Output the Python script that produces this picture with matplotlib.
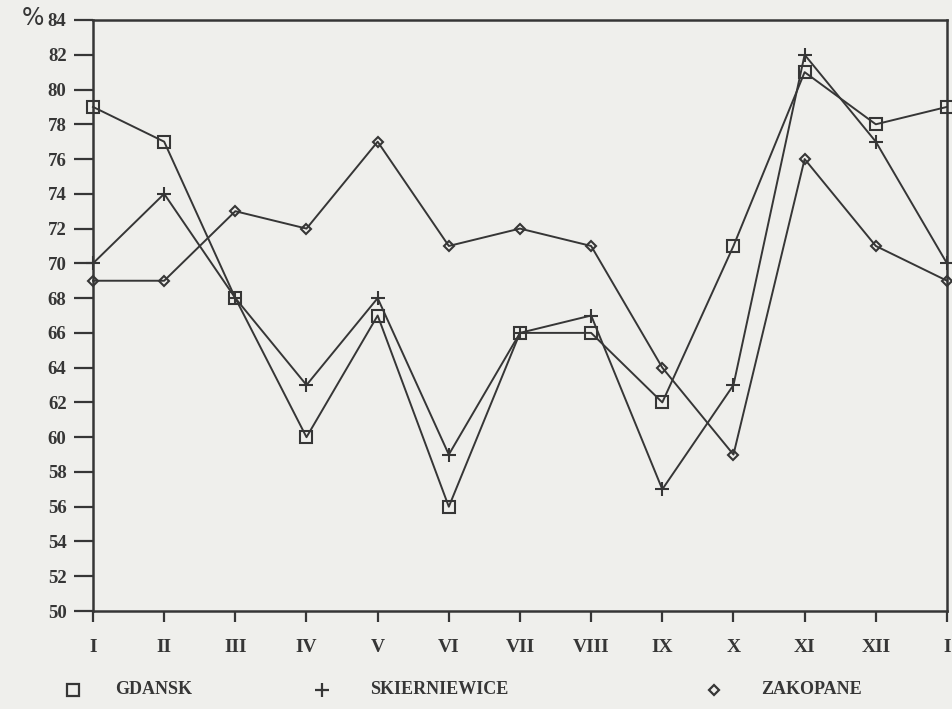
import matplotlib
matplotlib.use("Agg")
from matplotlib import pyplot as plt
from matplotlib.lines import Line2D

# monthly values, %
months = ["I", "II", "III", "IV", "V", "VI", "VII", "VIII", "IX", "X", "XI", "XII", "I"]
gdansk = [79, 77, 68, 60, 67, 56, 66, 66, 62, 71, 81, 78, 79]
skierniewice = [70, 74, 68, 63, 68, 59, 66, 67, 57, 63, 82, 77, 70]
zakopane = [69, 69, 73, 72, 77, 71, 72, 71, 64, 59, 76, 71, 69]
y_ticks = list(range(50, 85, 2))

ink = "#363636"
paper = "#efefec"
font = "Liberation Serif"

fig = plt.figure(figsize=(9.52, 7.09), dpi=100, facecolor=paper)
ax = fig.add_axes([0.0977, 0.1382, 0.8970, 0.8336])
ax.set_facecolor(paper)

x = list(range(len(months)))
style = dict(color=ink, lw=1.4, markerfacecolor="none", markeredgecolor=ink,
             markeredgewidth=1.5, clip_on=False, zorder=3)
ax.plot(x, gdansk, marker="s", markersize=8.5, **style)
ax.plot(x, skierniewice, marker="+", markersize=10, **style)
ax.plot(x, zakopane, marker="D", markersize=5.5, **style)

ax.set_xlim(0, len(months) - 1)
ax.set_ylim(50, 84)
ax.set_yticks(y_ticks)
ax.set_yticklabels([str(v) for v in y_ticks], family=font, weight="bold", fontsize=13.5)
ax.set_xticks(x)
ax.set_xticklabels(months, family=font, weight="bold", fontsize=14)
ax.tick_params(axis="y", direction="out", length=14, width=1.6, color=ink,
               labelcolor=ink, pad=5)
ax.tick_params(axis="x", direction="out", length=8, width=1.6, color=ink,
               labelcolor=ink, pad=12)
for s in ax.spines.values():
    s.set_color(ink)
    s.set_linewidth(1.8)

fig.text(0.023, 0.975, "%", fontsize=17, color=ink, ha="left", va="center")

# legend along the bottom
legend_y = 0.027
entries = [("s", 8.5, 0.077, "GDANSK", 0.121),
           ("+", 10, 0.338, "SKIERNIEWICE", 0.389),
           ("D", 5, 0.750, "ZAKOPANE", 0.800)]
for m, ms, mx, label, tx in entries:
    fig.add_artist(Line2D([mx], [legend_y], marker=m, markersize=ms, color=ink,
                          markerfacecolor="none", markeredgewidth=1.6,
                          transform=fig.transFigure))
    fig.text(tx, legend_y, label, family=font, weight="bold", fontsize=13,
             color=ink, ha="left", va="center")

fig.savefig("out.png", dpi=100, facecolor=paper)
